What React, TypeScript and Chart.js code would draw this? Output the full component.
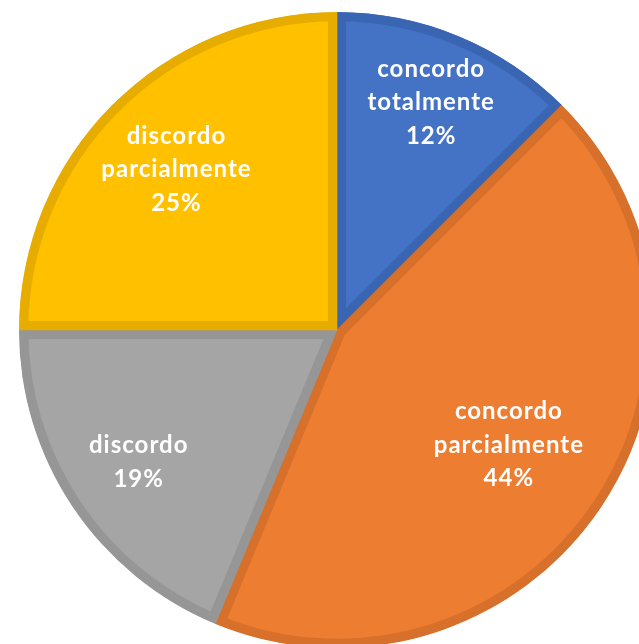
import React, { useEffect, useRef } from "react";
import { Chart, registerables } from "chart.js";

Chart.register(...registerables);

const categories = ["concordo totalmente", "concordo parcialmente", "discordo", "discordo parcialmente"];
const labelLines = [
  ["concordo", "totalmente"],
  ["concordo", "parcialmente"],
  ["discordo"],
  ["discordo", "parcialmente"],
];
const values = [12.5, 43.75, 18.75, 25];
const percentLabels = ["12%", "44%", "19%", "25%"];
const fillColors = ["#4472C4", "#ED7D31", "#A5A5A5", "#FFC000"];
const borderColors = ["#3A65B3", "#D7702B", "#969696", "#E6AD00"];
const labelRadiusFractions = [0.774, 0.65, 0.75, 0.714];

const labelPlugin = {
  id: "sliceLabels",
  afterDatasetsDraw(chart: any) {
    const ctx = chart.ctx;
    const meta = chart.getDatasetMeta(0);
    ctx.save();
    ctx.fillStyle = "#FFFFFF";
    ctx.font = "bold 24px Lato";
    try {
      (ctx as any).letterSpacing = "1px";
    } catch (e) {}
    ctx.textAlign = "center";
    ctx.textBaseline = "middle";
    const lineH = 33.5;
    meta.data.forEach((arc: any, i: number) => {
      const p = arc.getProps(["x", "y", "startAngle", "endAngle", "outerRadius"], true);
      const mid = (p.startAngle + p.endAngle) / 2;
      const r = p.outerRadius * labelRadiusFractions[i];
      const cx = p.x + Math.cos(mid) * r;
      const cy = p.y + Math.sin(mid) * r;
      const lines = [...labelLines[i], percentLabels[i]];
      const top = cy - ((lines.length - 1) * lineH) / 2;
      lines.forEach((t, j) => ctx.fillText(t, cx, top + j * lineH));
    });
    ctx.restore();
  },
};

export default function App() {
  const ref = useRef<HTMLCanvasElement | null>(null);
  useEffect(() => {
    if (!ref.current) return;
    const chart = new Chart(ref.current, {
      type: "pie",
      data: {
        labels: categories,
        datasets: [
          {
            data: values,
            backgroundColor: fillColors,
            borderColor: borderColors,
            borderWidth: 9,
            borderAlign: "inner",
            borderJoinStyle: "miter",
          } as any,
        ],
      },
      options: {
        responsive: false,
        animation: false,
        radius: 318,
        plugins: {
          legend: { display: false },
          tooltip: { enabled: false },
        },
      } as any,
      plugins: [labelPlugin],
    });
    return () => chart.destroy();
  }, []);
  return (
    <div
      style={{
        position: "fixed",
        left: 0,
        top: 0,
        width: 639,
        height: 644,
        overflow: "hidden",
        background: "#FFFFFF",
      }}
    >
      <canvas
        ref={ref}
        width={660}
        height={660}
        style={{ position: "absolute", left: 7, top: 0, width: 660, height: 660 }}
      />
    </div>
  );
}
